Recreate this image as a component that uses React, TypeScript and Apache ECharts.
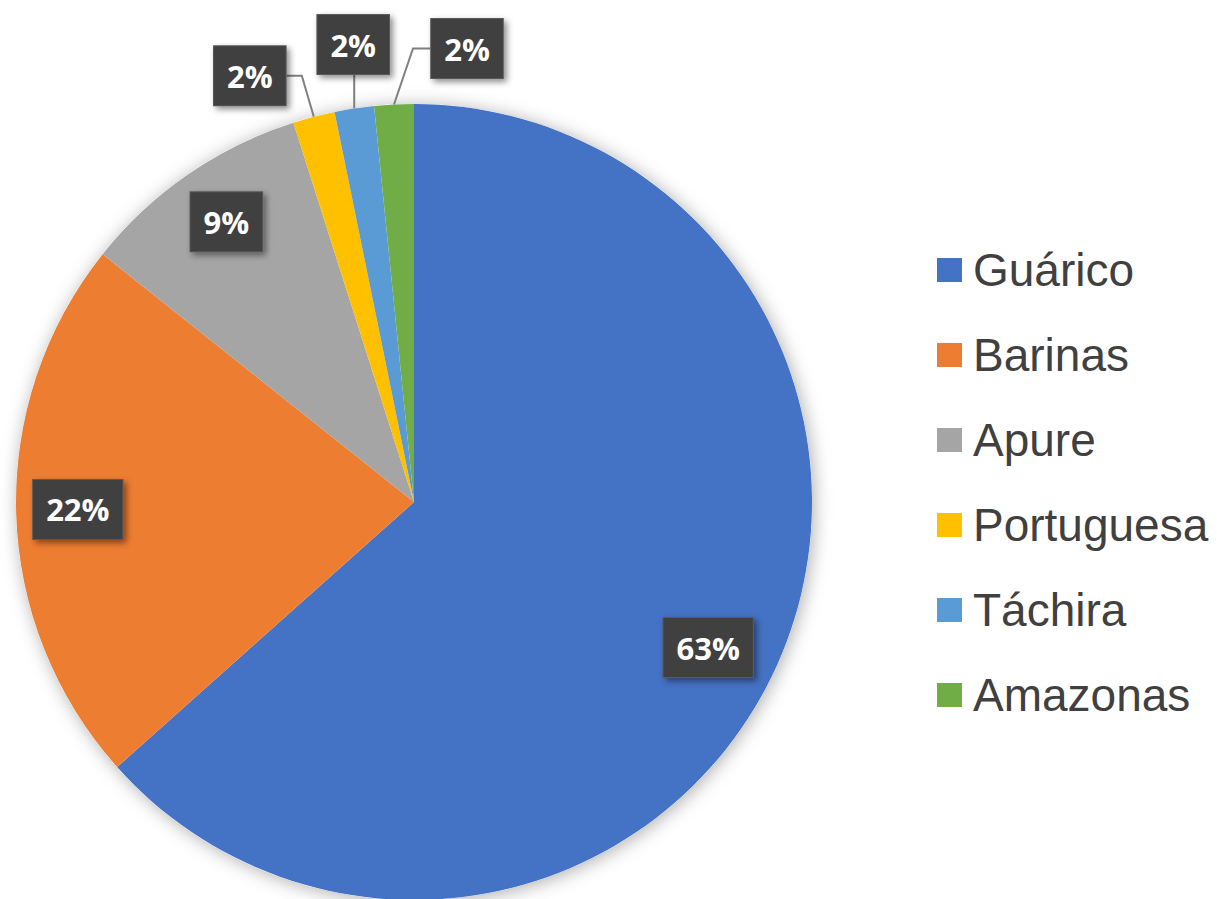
import React, { useEffect, useRef } from "react";
import * as echarts from "echarts";

const categories = ["Guárico", "Barinas", "Apure", "Portuguesa", "Táchira", "Amazonas"];
const values = [63.4, 22.3, 9.4, 1.7, 1.6, 1.6];
const colors = ["#4472C4", "#ED7D31", "#A5A5A5", "#FFC000", "#5B9BD5", "#70AD47"];

// label placement styling (relative to each slice's computed anchor)
const insideRadiusFactor = 0.84;
const insideNudge: [number, number][] = [[-11, 9], [-2, -2], [2, -5]];
// for outside labels: [bendDx, bendDy, boxDx, boxDy]
const outsideGuide: [number, number, number, number][] = [
  [-12, -41, -64, -41],
  [0, -34, -1, -64],
  [19, -56, 73, -56],
];

const CX = 414;
const CY = 502;
const R = 398;

export default function App() {
  const ref = useRef<HTMLDivElement>(null);
  useEffect(() => {
    if (!ref.current) return;
    const chart = echarts.init(ref.current, null, { renderer: "svg" });
    const total = values.reduce((a, b) => a + b, 0);
    const mids: number[] = [];
    let cum = 0;
    values.forEach((v) => {
      mids.push(((cum + v / 2) / total) * Math.PI * 2);
      cum += v;
    });
    const smallStart = 3;
    chart.setOption({
      animation: false,
      backgroundColor: "#ffffff",
      legend: {
        data: categories,
        orient: "vertical",
        left: 937,
        top: 247,
        padding: 0,
        itemWidth: 25,
        itemHeight: 24,
        itemGap: 39,
        icon: "rect",
        selectedMode: false,
        textStyle: {
          fontSize: 46,
          fontFamily: "Liberation Sans, Arial, sans-serif",
          color: "#404040",
          padding: [0, 0, 0, 6],
        },
      },
      series: [
        {
          type: "pie",
          name: "shadow",
          z: 1,
          silent: true,
          center: [CX, CY],
          radius: R,
          label: { show: false },
          labelLine: { show: false },
          itemStyle: {
            color: "#ffffff",
            shadowBlur: 18,
            shadowColor: "rgba(0,0,0,0.32)",
            shadowOffsetX: 2,
            shadowOffsetY: 2,
          },
          data: [{ name: "shadow", value: 1 }],
        },
        {
          type: "pie",
          name: "Estados",
          z: 2,
          center: [CX, CY],
          radius: R,
          startAngle: 90,
          clockwise: true,
          avoidLabelOverlap: false,
          percentPrecision: 0,
          itemStyle: { borderWidth: 0 },
          data: categories.map((c, i) => ({
            name: c,
            value: values[i],
            itemStyle: { color: colors[i] },
            labelLine: { show: i >= smallStart },
          })),
          label: {
            show: true,
            position: "outside",
            formatter: "{d}%",
            color: "#ffffff",
            fontFamily: "Open Sans, sans-serif",
            fontWeight: "bold",
            fontSize: 31,
            lineHeight: 31,
            backgroundColor: "#404040",
            borderColor: "#5a5a5a",
            borderWidth: 1,
            padding: [14, 13, 14, 13],
            shadowBlur: 6,
            shadowColor: "rgba(0,0,0,0.45)",
            shadowOffsetX: 3,
            shadowOffsetY: 3,
          },
          labelLine: {
            show: true,
            length: 20,
            length2: 10,
            lineStyle: { color: "#7f7f7f", width: 2 },
          },
          labelLayout: (params: any) => {
            const i = params.dataIndex;
            const a = mids[i];
            const sx = Math.sin(a);
            const cy = -Math.cos(a);
            if (i < smallStart) {
              const n = insideNudge[i];
              return {
                x: CX + insideRadiusFactor * R * sx + n[0],
                y: CY + insideRadiusFactor * R * cy + n[1],
                align: "center",
                verticalAlign: "middle",
              };
            }
            const g = outsideGuide[i - smallStart];
            const ax = CX + R * sx;
            const ay = CY + R * cy;
            const bx = ax + g[2];
            const by = ay + g[3];
            const hw = params.labelRect ? params.labelRect.width / 2 : 36;
            const hh = params.labelRect ? params.labelRect.height / 2 : 29;
            let pts: number[][];
            if (g[0] === 0) {
              pts = [[ax, ay], [ax, by + hh]];
            } else {
              const ex = g[0] < 0 ? bx + hw : bx - hw;
              pts = [[ax, ay], [ax + g[0], ay + g[1]], [ex, ay + g[1]]];
            }
            return {
              x: bx,
              y: by,
              align: "center",
              verticalAlign: "middle",
              labelLinePoints: pts,
            };
          },
        },
      ],
    });
    return () => chart.dispose();
  }, []);
  return (
    <div
      ref={ref}
      style={{ position: "absolute", left: 0, top: 0, width: 1217, height: 899 }}
    />
  );
}
